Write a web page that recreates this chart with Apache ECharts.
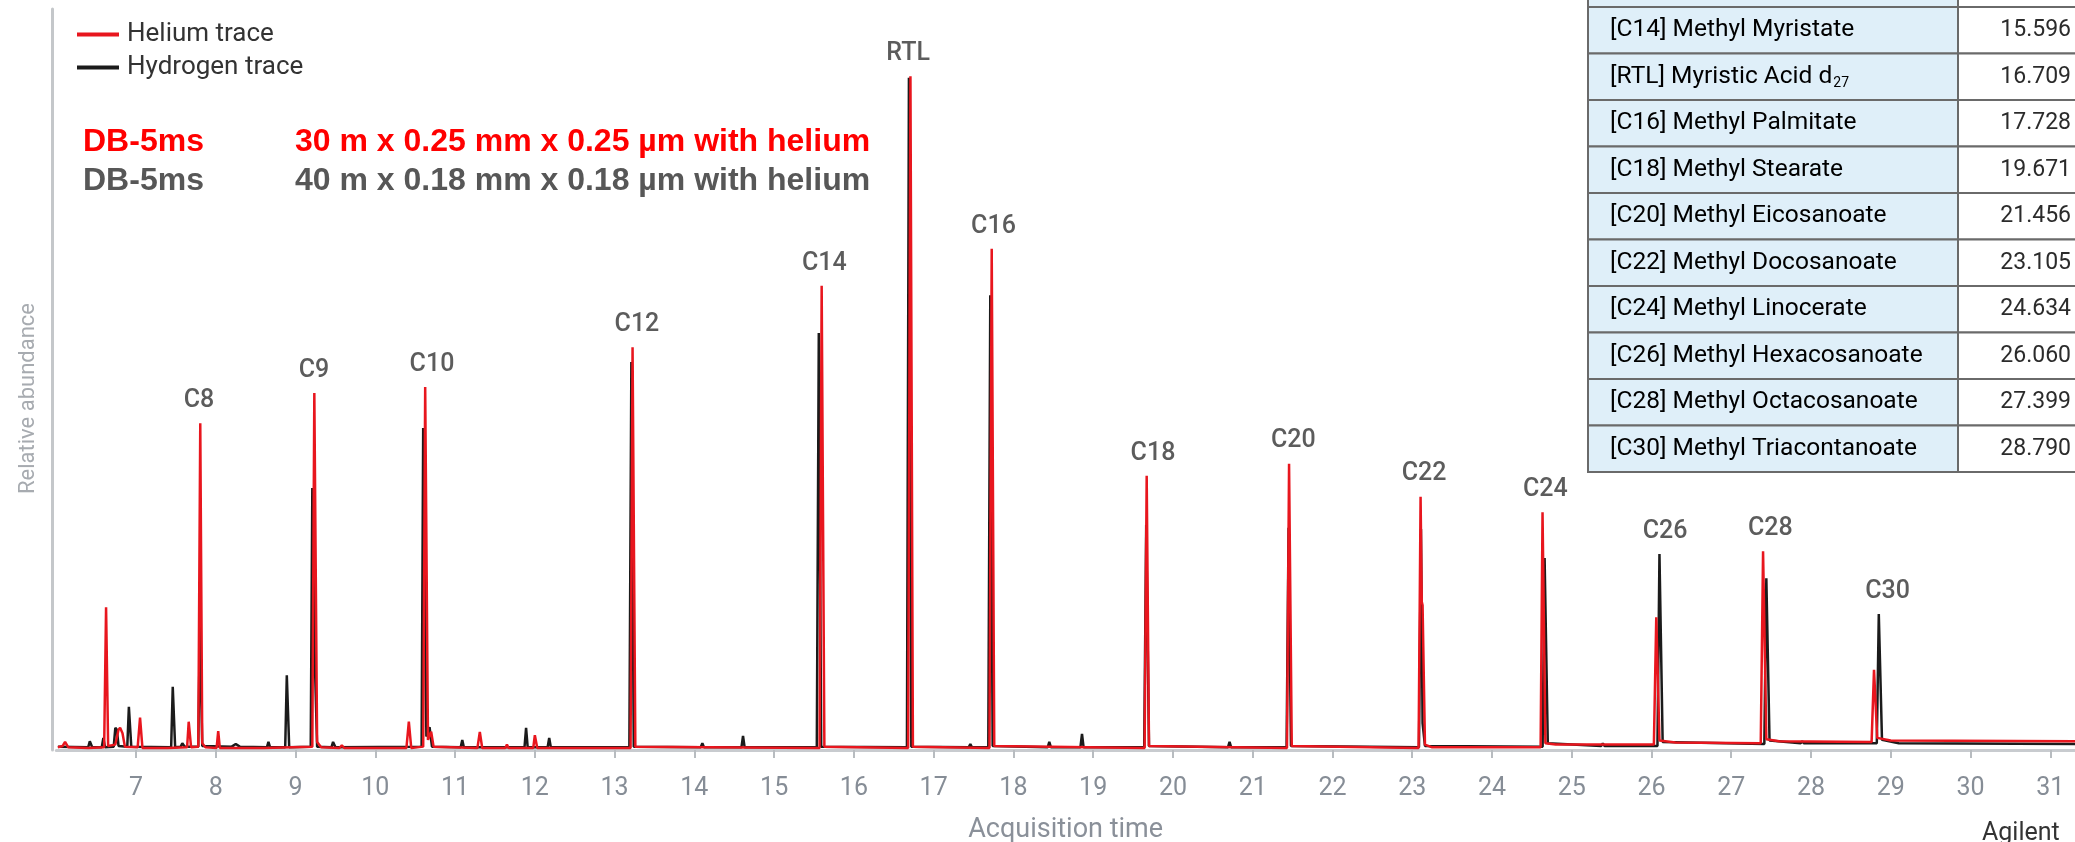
<!DOCTYPE html>
<html><head><meta charset="utf-8">
<script src="https://cdn.jsdelivr.net/npm/echarts@6/dist/echarts.min.js"></script>
<style>html,body{margin:0;padding:0;background:#fff}#c{width:2075px;height:842px}</style>
</head><body><div id="c"></div>
<script>
// Helium trace (30 m column) [time (min), relative abundance]
const heliumTrace = [
 [6.02,0.4],[6.08,0.6],[6.11,1.2],[6.15,0.4],[6.40,0.3],[6.60,0.4],[6.624,21.2],[6.65,0.6],[6.74,0.8],[6.78,3.0],[6.80,3.3],[6.83,2.5],[6.86,0.5],
 [7.02,0.4],[7.05,4.8],[7.08,0.3],[7.40,0.3],[7.64,0.4],[7.66,4.2],[7.69,0.4],[7.78,0.5],[7.805,48.5],[7.83,1.0],[7.87,0.4],
 [8.01,0.3],[8.03,2.8],[8.05,0.3],[8.60,0.3],[9.21,0.5],[9.235,53.0],[9.27,1.2],[9.32,0.4],[9.55,0.3],[9.58,0.7],[9.61,0.3],
 [10.39,0.3],[10.42,4.2],[10.45,0.3],[10.60,0.5],[10.625,53.9],[10.66,1.5],[10.70,2.7],[10.73,0.5],[11.28,0.3],[11.31,2.7],[11.34,0.3],
 [11.63,0.3],[11.65,0.8],[11.67,0.3],[11.98,0.3],[12.00,2.2],[12.03,0.3],[13.20,0.3],[13.225,59.8],[13.26,0.5],
 [15.57,0.3],[15.596,68.9],[15.63,0.5],[16.68,0.3],[16.709,100],[16.74,0.5],[17.70,0.3],[17.728,74.4],[17.76,0.6],
 [19.645,0.3],[19.671,40.7],[19.70,0.6],[21.43,0.3],[21.456,42.5],[21.49,0.6],
 [23.08,0.3],[23.105,37.6],[23.12,22.0],[23.13,21.5],[23.16,0.8],[23.25,0.4],
 [24.61,0.4],[24.634,35.3],[24.67,1.0],[24.80,0.8],[26.03,0.8],[26.06,19.7],[26.10,1.4],[26.30,1.1],
 [27.37,1.0],[27.399,29.5],[27.44,1.6],[27.60,1.3],[28.76,1.2],[28.79,11.9],[28.83,1.8],[29.00,1.4],[31.35,1.3]
];
// Hydrogen trace (40 m column)
const hydrogenTrace = [
 [6.02,0.5],[6.40,0.4],[6.42,1.3],[6.45,0.4],[6.57,0.4],[6.59,1.8],[6.61,0.4],[6.72,0.5],[6.74,3.3],[6.76,3.0],[6.78,0.6],
 [6.89,0.5],[6.91,6.4],[6.94,0.5],[7.44,0.4],[7.46,9.4],[7.49,0.4],[7.56,0.5],[7.58,1.0],[7.61,0.5],[7.78,0.5],[7.80,18.3],[7.83,0.6],
 [8.20,0.5],[8.25,0.9],[8.30,0.5],[8.64,0.4],[8.66,1.2],[8.68,0.4],[8.87,0.4],[8.89,11.1],[8.92,0.4],
 [9.19,0.5],[9.21,38.9],[9.24,13.8],[9.27,0.5],[9.45,0.4],[9.47,1.2],[9.50,0.4],
 [10.58,0.5],[10.60,47.8],[10.64,2.0],[10.68,3.4],[10.71,0.5],[11.07,0.4],[11.09,1.5],[11.11,0.4],
 [11.87,0.4],[11.89,3.3],[11.91,0.4],[12.16,0.4],[12.18,1.8],[12.20,0.4],[13.185,0.4],[13.21,57.6],[13.24,0.5],
 [14.08,0.4],[14.10,1.0],[14.12,0.4],[14.59,0.4],[14.61,2.1],[14.63,0.4],[15.535,0.4],[15.56,61.9],[15.59,0.5],
 [16.665,0.4],[16.69,99.8],[16.72,0.5],[17.44,0.4],[17.46,0.9],[17.48,0.4],[17.685,0.4],[17.71,67.5],[17.74,0.6],
 [18.43,0.4],[18.45,1.2],[18.47,0.4],[18.84,0.4],[18.86,2.4],[18.88,0.4],[19.64,0.4],[19.665,33.4],[19.70,0.6],
 [20.69,0.4],[20.71,1.2],[20.73,0.4],[21.425,0.4],[21.45,33.0],[21.48,0.6],[23.085,0.4],[23.11,32.8],[23.13,4.0],[23.16,0.6],
 [24.635,0.5],[24.66,28.5],[24.70,1.0],[25.37,0.6],[25.39,1.0],[25.41,0.6],[26.075,0.6],[26.10,29.1],[26.14,1.2],
 [27.415,0.9],[27.44,25.5],[27.48,1.4],[27.87,1.0],[27.89,1.3],[27.91,1.0],[28.825,1.0],[28.85,20.2],[28.89,1.5],[29.10,1.0],[31.35,0.9]
];
const peakNames = ['C8','C9','C10','C12','C14','RTL','C16','C18','C20','C22','C24','C26','C28','C30'];
const peakLabelTimes = [7.79,9.23,10.71,13.28,15.63,16.68,17.75,19.75,21.51,23.15,24.67,26.17,27.49,28.96];
const xTickValues = [7,8,9,10,11,12,13,14,15,16,17,18,19,20,21,22,23,24,25,26,27,28,29,30,31];
const tableCompounds = ['[C14] Methyl Myristate','[RTL] Myristic Acid d','[C16] Methyl Palmitate','[C18] Methyl Stearate','[C20] Methyl Eicosanoate','[C22] Methyl Docosanoate','[C24] Methyl Linocerate','[C26] Methyl Hexacosanoate','[C28] Methyl Octacosanoate','[C30] Methyl Triacontanoate'];
const tableSubscripts = ['','27','','','','','','','',''];
const tableTimes = ['15.596','16.709','17.728','19.671','21.456','23.105','24.634','26.060','27.399','28.790'];

// peak label anchors: highest trace point near each label time
const labelData = peakNames.map((n,i)=>{
  const t = peakLabelTimes[i];
  let best = 0;
  heliumTrace.concat(hydrogenTrace).forEach(p=>{ if (Math.abs(p[0]-t) < 0.12 && p[1] > best) best = p[1]; });
  return {name:n, value:[t,best]};
});

const chart = echarts.init(document.getElementById('c'), null, {renderer:'canvas'});
const graphics = [];
const annFont = 'bold 32px "Liberation Sans", Arial';
graphics.push({type:'text', left:83, top:126, z:100, style:{text:'DB-5ms', fill:'#ff0000', font:annFont}});
graphics.push({type:'text', left:295, top:126, z:100, style:{text:'30 m x 0.25 mm x 0.25 µm with helium', fill:'#ff0000', font:annFont}});
graphics.push({type:'text', left:83, top:165, z:100, style:{text:'DB-5ms', fill:'#575757', font:annFont}});
graphics.push({type:'text', left:295, top:165, z:100, style:{text:'40 m x 0.18 mm x 0.18 µm with helium', fill:'#575757', font:annFont}});
// table
const tL = 1588, tM = 1958, tR = 2200, r0 = 7, rh = 46.5;
graphics.push({type:'rect', z:100, shape:{x:tL, y:-40, width:tM-tL, height:47}, style:{fill:'#dfeff9', stroke:'#6a6a6a', lineWidth:2}});
graphics.push({type:'rect', z:100, shape:{x:tM, y:-40, width:tR-tM, height:47}, style:{fill:'#ffffff', stroke:'#6a6a6a', lineWidth:2}});
tableCompounds.forEach((name,i)=>{
  const y = r0 + i*rh;
  graphics.push({type:'rect', z:100, shape:{x:tL, y:y, width:tM-tL, height:rh}, style:{fill:'#dfeff9', stroke:'#6a6a6a', lineWidth:2}});
  graphics.push({type:'rect', z:100, shape:{x:tM, y:y, width:tR-tM, height:rh}, style:{fill:'#ffffff', stroke:'#6a6a6a', lineWidth:2}});
  const sub = tableSubscripts[i];
  graphics.push({type:'text', z:101, x:1610, y:y+rh/2, style:{
    text: sub ? '{a|'+name+'}{s|'+sub+'}' : '{a|'+name+'}',
    rich:{a:{fontFamily:'Roboto', fontSize:24.5, color:'#2b2b2b', lineHeight:28}, s:{fontFamily:'Roboto', fontSize:14, color:'#2b2b2b', lineHeight:28, verticalAlign:'bottom', padding:[14,0,0,1]}},
    verticalAlign:'middle', align:'left'}});
  graphics.push({type:'text', z:101, x:2071, y:y+rh/2, style:{text:tableTimes[i], fill:'#2b2b2b', font:'23px Roboto', verticalAlign:'middle', align:'right'}});
});
graphics.push({type:'text', z:100, left:1982, top:821, style:{text:'Agilent', fill:'#333', font:'25px Roboto'}});

chart.setOption({
  animation:false,
  backgroundColor:'#fff',
  grid:{left:56.3, right:0, top:9, bottom:92, outerBoundsMode:'none', containLabel:false},
  legend:{orient:'vertical', left:72, top:16, itemWidth:42, itemHeight:4, itemGap:6, icon:'rect',
    data:['Helium trace','Hydrogen trace'],
    textStyle:{fontFamily:'Roboto', fontSize:26, color:'#333', lineHeight:27, padding:[0,0,0,3]}},
  xAxis:{type:'value', min:6, max:31.31, offset:12,
    name:'Acquisition time', nameLocation:'middle', nameGap:55,
    nameTextStyle:{fontFamily:'Roboto', fontSize:27, color:'#8a9099'},
    axisLine:{show:true, lineStyle:{color:'#c8cbcf', width:3}},
    axisTick:{show:true, length:8, customValues:xTickValues, lineStyle:{color:'#b8bcc0', width:2}},
    axisLabel:{customValues:xTickValues, margin:14, fontFamily:'Roboto', fontSize:25, color:'#868d96'},
    splitLine:{show:false}},
  yAxis:{type:'value', min:0, max:110, offset:4,
    name:'Relative abundance', nameLocation:'middle', nameGap:13, nameRotate:90,
    nameTextStyle:{fontFamily:'Roboto', fontSize:22, color:'#a7abb0', padding:[0,38,0,0]},
    axisLine:{show:true, lineStyle:{color:'#c4c7ca', width:3}},
    axisTick:{show:false}, axisLabel:{show:false}, splitLine:{show:false}},
  series:[
    {name:'Hydrogen trace', type:'line', data:hydrogenTrace, symbol:'none', z:2,
      lineStyle:{color:'#1b1b1b', width:2.5}, itemStyle:{color:'#1b1b1b'}},
    {name:'Helium trace', type:'line', data:heliumTrace, symbol:'none', z:3,
      lineStyle:{color:'#e8161e', width:2.5}, itemStyle:{color:'#e8161e'}},
    {name:'labels', type:'scatter', data:labelData, symbolSize:0, z:4, silent:true,
      label:{show:true, position:'top', distance:10, formatter:'{b}', fontFamily:'Roboto', fontWeight:500, fontSize:25, color:'#333'}}
  ],
  graphic:graphics
});
</script></body></html>
